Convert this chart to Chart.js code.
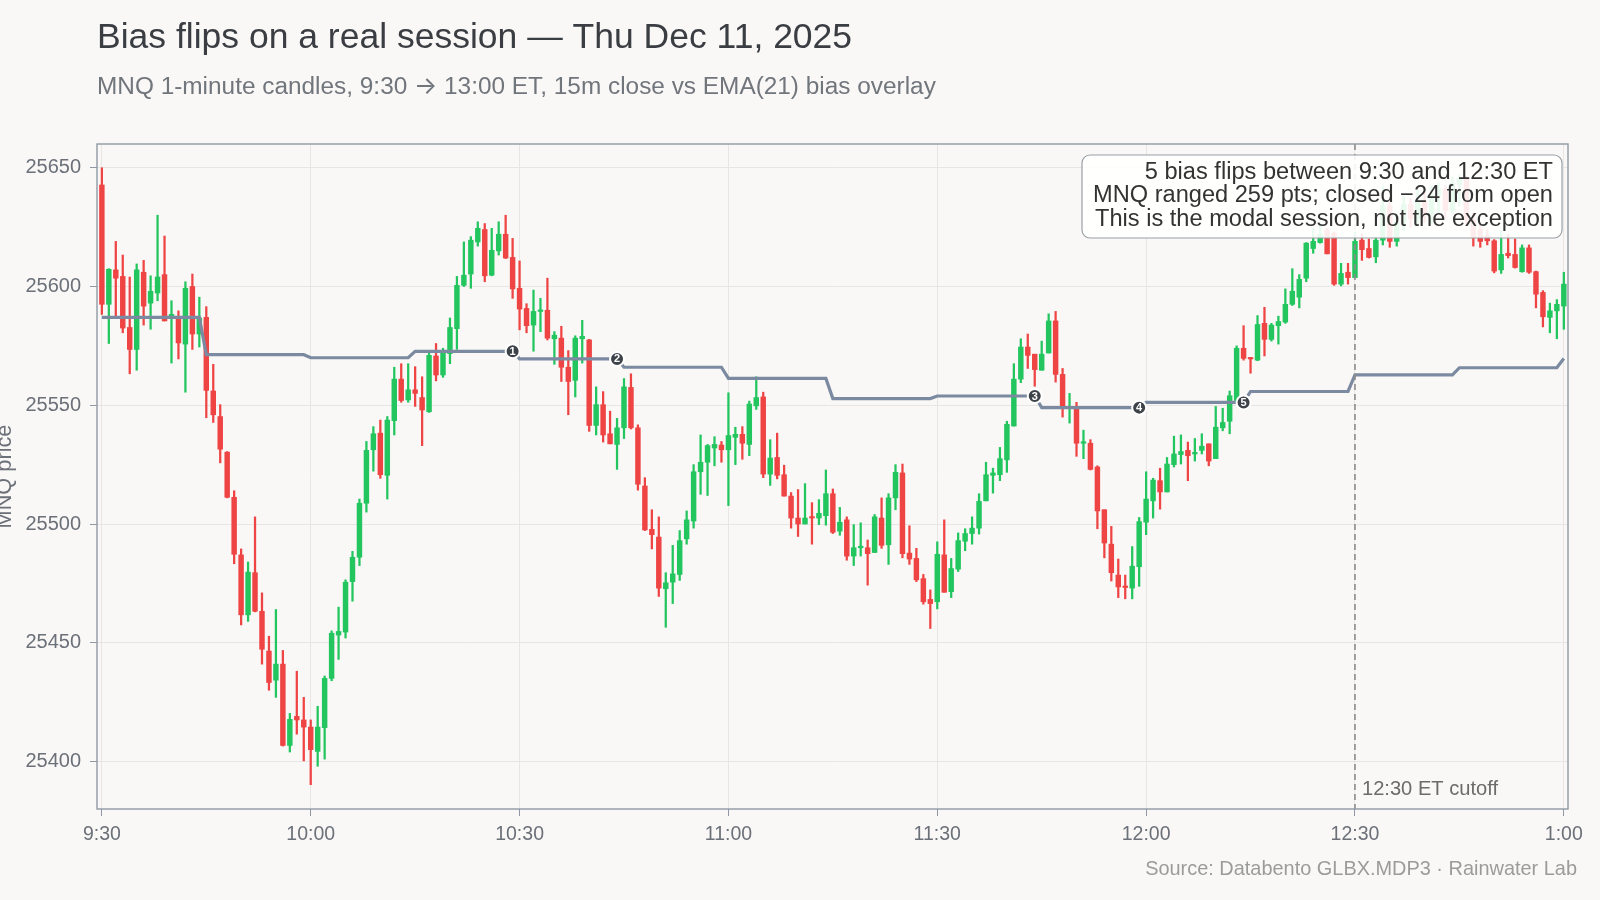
<!DOCTYPE html>
<html>
<head>
<meta charset="utf-8">
<script src="https://cdn.jsdelivr.net/npm/chart.js@4.4.1/dist/chart.umd.min.js"></script>
<style>
  html, body { margin: 0; padding: 0; background: #f9f8f6; }
  #wrap { width: 1600px; height: 900px; }
</style>
</head>
<body>
<div id="wrap"><canvas id="chart" width="1600" height="900"></canvas></div>
<script>
// MNQ 1-minute candles, 9:30 (index 0) -> 13:00 (index 210)
const opens = [
  25642.75, 25592.5, 25607, 25604.25, 25582.75, 25573.5, 25606, 25593, 25597.25, 25605,
  25587, 25586.75, 25575.75, 25600, 25580, 25587, 25556, 25545.25, 25530.25, 25511.25,
  25487, 25461.75, 25479.5, 25463.25, 25446.5, 25434.25, 25441, 25406.75, 25419, 25417.5,
  25414.5, 25404.25, 25414.25, 25435, 25453.25, 25454.5, 25475.75, 25486, 25508.75, 25531.25,
  25538.25, 25520.5, 25543.5, 25561, 25552.25, 25556.5, 25553.25, 25547.25, 25570.75, 25562.75,
  25571.75, 25582.25, 25600.5, 25605.25, 25618.75, 25624, 25604.75, 25615, 25622, 25612.25,
  25599.25, 25590.75, 25583.75, 25589.5, 25590, 25578, 25578.25, 25566, 25560.5, 25578,
  25577.5, 25541.5, 25550.25, 25538, 25533.5, 25540.5, 25557.5, 25540.5, 25516, 25497.75,
  25494.5, 25472.75, 25475.5, 25478.75, 25493.75, 25501.25, 25522, 25526, 25532, 25533.25,
  25531.25, 25536.5, 25537.75, 25533.5, 25549.75, 25553.5, 25521, 25528, 25520.75, 25511.75,
  25502.5, 25500, 25503, 25502.5, 25503.5, 25512.75, 25497, 25501.75, 25486.5, 25490,
  25490, 25488, 25502.5, 25491.25, 25511, 25521.5, 25487.75, 25485.5, 25477, 25468.25,
  25467.25, 25487, 25471.5, 25481, 25492.75, 25496, 25498.25, 25509.75, 25520.5, 25520.75,
  25527, 25541.25, 25561, 25574.5, 25571.5, 25564.75, 25572, 25585.5, 25563, 25548.75,
  25549, 25534, 25534, 25524, 25506, 25491.5, 25478.5, 25473.5, 25473, 25482,
  25500.75, 25509.75, 25518.25, 25513.5, 25525, 25529.25, 25531, 25529.5, 25531, 25533.75,
  25527.5, 25540.5, 25543.25, 25552, 25574, 25570, 25569, 25584.5, 25577.75, 25583.5,
  25585, 25592.5, 25595.5, 25603.5, 25616, 25618.5, 25623.75, 25622.5, 25601, 25606,
  25603.75, 25619.5, 25616, 25612.5, 25619.5, 25634, 25619, 25627, 25634.5, 25628.5,
  25636, 25630.5, 25638.5, 25641, 25632, 25643, 25645.5, 25628, 25624, 25621.5,
  25619.25, 25607, 25614, 25613.5, 25606.25, 25616.25, 25606.25, 25597.5, 25587, 25589.75,
  25591.75
];
const highs = [
  25650, 25607.5, 25619, 25613.25, 25604, 25609.5, 25611, 25604.5, 25630, 25621.25,
  25594, 25589.75, 25602, 25605.25, 25595.5, 25591.5, 25567.25, 25550.25, 25530.5, 25514,
  25489.5, 25484, 25503, 25471, 25452.75, 25464, 25446.75, 25420.25, 25438, 25427,
  25417.5, 25423.25, 25436, 25455, 25465, 25476.5, 25488.5, 25510.5, 25534.75, 25541,
  25543.75, 25545.25, 25566, 25567.5, 25567.5, 25566.25, 25562, 25573, 25576, 25574,
  25586.75, 25604.25, 25618.75, 25621, 25627.25, 25626.5, 25624.5, 25627.25, 25630, 25620.25,
  25610.75, 25592.75, 25598.5, 25595, 25603.5, 25581, 25583.25, 25573, 25579.25, 25585.75,
  25577.75, 25557.75, 25555.75, 25547.5, 25544.5, 25561.25, 25563.25, 25541.75, 25519.5, 25506,
  25503, 25479.5, 25491, 25497.25, 25505.5, 25525, 25537.5, 25533.5, 25536.75, 25534.75,
  25555.25, 25540.75, 25541, 25551.75, 25562, 25555.5, 25535.5, 25538.25, 25524.75, 25513.25,
  25514.5, 25517, 25509, 25510.25, 25522.75, 25514.75, 25507, 25503, 25499.75, 25500.5,
  25493.25, 25504, 25511, 25512.75, 25525, 25525.25, 25499.25, 25489.75, 25478.75, 25472.25,
  25492.5, 25501.75, 25485.5, 25496.25, 25498, 25503, 25512.75, 25526, 25523.5, 25532.25,
  25543.25, 25567.5, 25578, 25580, 25571.5, 25577, 25588.5, 25589.5, 25565.5, 25555,
  25551.25, 25539.5, 25535.5, 25524.5, 25506, 25499, 25485.25, 25478.5, 25490.5, 25502.75,
  25522, 25519.25, 25523.5, 25528, 25537, 25537.5, 25534.5, 25536, 25538, 25533.75,
  25549.5, 25548.75, 25556, 25575, 25583.5, 25570, 25587.75, 25591.25, 25584.5, 25587.5,
  25599, 25607.5, 25605, 25618.5, 25624.5, 25627, 25624.5, 25623, 25609.75, 25609.75,
  25623, 25622.25, 25620, 25621, 25642, 25636, 25630.5, 25638, 25637, 25640.5,
  25641, 25642.5, 25643.5, 25642.5, 25646, 25647, 25646.5, 25631, 25627, 25624,
  25619.75, 25623.5, 25622, 25620, 25617.5, 25617.5, 25606.5, 25598.25, 25593, 25594.5,
  25606
];
const lows = [
  25588.25, 25576, 25587.5, 25580.5, 25563.25, 25564.75, 25583.75, 25582, 25594, 25585.5,
  25567.75, 25569.5, 25555.5, 25573.5, 25574.5, 25544.75, 25542.75, 25525.75, 25511, 25483.25,
  25457.5, 25459, 25463, 25441, 25430, 25427, 25406.5, 25404, 25411.5, 25400.25,
  25390.25, 25398, 25401, 25434, 25443, 25452, 25467.5, 25482.5, 25505, 25522.25,
  25519.25, 25510.5, 25537.5, 25551.25, 25551.25, 25549.5, 25533, 25547, 25560.25, 25561.75,
  25567.5, 25573.5, 25600, 25599.25, 25617, 25602, 25604.5, 25613.25, 25611.75, 25595,
  25581.75, 25580.5, 25572.75, 25581, 25577.5, 25567.25, 25560, 25546, 25553.5, 25567.75,
  25539, 25537.5, 25534.5, 25533.75, 25523, 25536, 25540, 25514.25, 25497.25, 25489.5,
  25469.5, 25456.5, 25466.5, 25476.25, 25491.5, 25498.25, 25512.5, 25512, 25524.5, 25526,
  25507.75, 25525, 25527.25, 25528.75, 25548.25, 25519.5, 25516.25, 25519, 25511.75, 25498.25,
  25494.75, 25500, 25491.5, 25499.75, 25499.5, 25496, 25495.25, 25484.75, 25482.5, 25486.5,
  25474.25, 25488, 25489.75, 25483, 25506, 25485.75, 25483, 25475.75, 25466.25, 25456,
  25464.25, 25471.25, 25469, 25480, 25488.75, 25491.5, 25495.75, 25509.75, 25513, 25518.25,
  25521.75, 25541.25, 25559.5, 25565.5, 25558, 25564.75, 25572, 25559.75, 25545, 25542.5,
  25528.5, 25527.5, 25522.75, 25498, 25485.75, 25476, 25469, 25468.5, 25468.5, 25473.75,
  25495.5, 25502.5, 25506.25, 25513.5, 25524, 25525.25, 25518.25, 25526.5, 25529.5, 25524.5,
  25527.5, 25539.25, 25538, 25551.25, 25569, 25563.5, 25568.75, 25570.75, 25577, 25575.75,
  25584.5, 25592, 25591, 25602, 25614, 25618.25, 25613.75, 25600.5, 25600.25, 25601,
  25603.75, 25611, 25612, 25610, 25617.5, 25616.5, 25617, 25623.5, 25625, 25626.5,
  25627, 25626.5, 25630.5, 25629, 25631, 25634, 25626, 25617, 25616.5, 25617.5,
  25605.75, 25605.5, 25612, 25607.75, 25606, 25605.5, 25591, 25583, 25580.5, 25578,
  25582
];
const closes = [
  25592.5, 25607.25, 25603.5, 25582.5, 25573.5, 25607, 25591.75, 25598, 25604, 25585.5,
  25588.25, 25576.25, 25599.25, 25580, 25586.75, 25556.25, 25546, 25531.5, 25511.25, 25487.25,
  25461.75, 25479.75, 25463.25, 25447.25, 25433.25, 25441, 25406.75, 25417.75, 25417.5, 25414.5,
  25405, 25414.5, 25435, 25454, 25454.75, 25475.5, 25486, 25508.75, 25531, 25538,
  25520.75, 25543.75, 25561, 25552, 25556.5, 25555, 25548, 25571, 25562.75, 25572,
  25582.75, 25600.5, 25604.75, 25619.5, 25624.5, 25604.5, 25615.25, 25622, 25612, 25599,
  25590.5, 25583.5, 25589.5, 25590, 25578.25, 25579.5, 25566, 25560, 25578.25, 25579,
  25541.5, 25550.25, 25537.5, 25533.75, 25540.5, 25557.75, 25540.5, 25516.75, 25497.5, 25495.5,
  25473, 25475.25, 25479, 25493, 25501.75, 25522, 25526, 25533, 25533.5, 25531.25,
  25537.25, 25537.75, 25534, 25550.5, 25553.25, 25521, 25527.75, 25520.5, 25511.75, 25502.5,
  25500, 25502.5, 25502.5, 25504.5, 25512.75, 25496.5, 25500.75, 25486.5, 25490, 25490.5,
  25487.5, 25503, 25491, 25511, 25521.75, 25487.5, 25485.25, 25476.5, 25467.25, 25466.5,
  25487.25, 25471.25, 25481.25, 25493, 25496, 25498.25, 25509.5, 25520.75, 25521.5, 25527.5,
  25542, 25561, 25574.5, 25571, 25565, 25571.5, 25585.5, 25563, 25549, 25549.5,
  25534, 25534.5, 25523, 25505.5, 25492, 25479.5, 25473.5, 25473.25, 25482.25, 25501,
  25510.5, 25518.5, 25513.5, 25525.25, 25529.5, 25530.5, 25528.75, 25530, 25532.75, 25526.5,
  25540.75, 25542.75, 25554, 25574, 25569.75, 25569.5, 25584, 25577.75, 25583.75, 25585.25,
  25592.5, 25598, 25603, 25618.25, 25619, 25622, 25613.75, 25601, 25605.5, 25603.75,
  25619, 25615.5, 25612.25, 25619.5, 25634, 25619, 25627, 25634.5, 25628.5, 25636,
  25630.5, 25638.5, 25641, 25632, 25643.5, 25645.5, 25628, 25620.5, 25619, 25619.25,
  25606.5, 25613.5, 25613, 25608, 25616.25, 25606, 25596.75, 25587.25, 25589.75, 25592.5,
  25601
];

// EMA(21) bias level per 15-minute block (9:30, 9:45, ... 13:00)
const biasLevels = [
  25587, 25571.3, 25570, 25572.7, 25569.5, 25566, 25561.3, 25552.8,
  25553.9, 25549, 25551.2, 25555.8, 25562.8, 25565.8, 25569.7
];
const flipMinutes = [59, 74, 134, 149, 164];
const flipLabels = ["1", "2", "3", "4", "5"];
const cutoffMinute = 180;

const tickMinutes = [0, 30, 60, 90, 120, 150, 180, 210];
const tickLabels = ["9:30", "10:00", "10:30", "11:00", "11:30", "12:00", "12:30", "1:00"];
const priceTicks = [25400, 25450, 25500, 25550, 25600, 25650];

const noteLines = [
  "5 bias flips between 9:30 and 12:30 ET",
  "MNQ ranged 259 pts; closed \u221224 from open",
  "This is the modal session, not the exception"
];

const UP = "#22c55e";
const DOWN = "#ef4444";
const FONT = "'Liberation Sans', Arial, Helvetica, sans-serif";
const ARROW_FONT = "Inter, sans-serif";

const biasAt = (i) => biasLevels[Math.floor(i / 15)];
const candleColor = (i) => (closes[i] >= opens[i] ? UP : DOWN);

const wickData = opens.map((_, i) => ({ x: i, y: [lows[i], highs[i]] }));
const bodyData = opens.map((_, i) => ({ x: i, y: [opens[i], closes[i]] }));
const biasData = opens.map((_, i) => ({ x: i, y: biasAt(i) }));
const colors = opens.map((_, i) => candleColor(i));

// font size (px) at which the text spans the given width
function fitSize(ctx, text, width, family) {
  ctx.font = "100px " + (family || FONT);
  return (100 * width) / ctx.measureText(text).width;
}

// draw pieces of text in a row, each with its own family, all the same size
function drawRun(ctx, pieces, x, y, width) {
  let total = 0;
  pieces.forEach((p) => {
    ctx.font = "100px " + p.family;
    total += ctx.measureText(p.text).width;
  });
  const size = (100 * width) / total;
  let cx = x;
  pieces.forEach((p) => {
    ctx.font = size.toFixed(2) + "px " + p.family;
    ctx.fillText(p.text, cx, y);
    cx += ctx.measureText(p.text).width;
  });
}

// background, titles, frame, cutoff line, flip markers, note box
const overlayPlugin = {
  id: "overlay",
  beforeDraw(chart) {
    const { ctx, width, height } = chart;
    ctx.save();
    ctx.fillStyle = "#f9f8f6";
    ctx.fillRect(0, 0, width, height);
    ctx.restore();
  },
  afterDatasetsDraw(chart) {
    const { ctx, chartArea, scales } = chart;
    const x = scales.x, y = scales.y;
    ctx.save();

    // 12:30 cutoff
    const cx = x.getPixelForValue(cutoffMinute);
    ctx.strokeStyle = "#8c8c8c";
    ctx.lineWidth = 1.6;
    ctx.setLineDash([6, 4]);
    ctx.beginPath();
    ctx.moveTo(cx, chartArea.top);
    ctx.lineTo(cx, chartArea.bottom);
    ctx.stroke();
    ctx.setLineDash([]);
    ctx.fillStyle = "#6b6b6b";
    ctx.font = fitSize(ctx, "12:30 ET cutoff", 136).toFixed(2) + "px " + FONT;
    ctx.textAlign = "left";
    ctx.textBaseline = "middle";
    ctx.fillText("12:30 ET cutoff", cx + 7, chartArea.bottom - 20);

    // flip markers
    flipMinutes.forEach((m, k) => {
      const px = x.getPixelForValue(m);
      const py = y.getPixelForValue(biasAt(m));
      ctx.beginPath();
      ctx.arc(px, py, 7, 0, Math.PI * 2);
      ctx.fillStyle = "#3e4249";
      ctx.fill();
      ctx.lineWidth = 2;
      ctx.strokeStyle = "#ffffff";
      ctx.stroke();
      ctx.fillStyle = "#ffffff";
      ctx.font = "bold 11px " + FONT;
      ctx.textAlign = "center";
      ctx.fillText(flipLabels[k], px, py + 0.5);
    });

    // note box (top right)
    const bx = 1082, by = 155, bw = 480, bh = 83;
    ctx.beginPath();
    ctx.roundRect(bx, by, bw, bh, 8);
    ctx.fillStyle = "rgba(255, 255, 255, 0.9)";
    ctx.fill();
    ctx.lineWidth = 1.2;
    ctx.strokeStyle = "#9aa0a6";
    ctx.stroke();
    ctx.fillStyle = "#333333";
    ctx.textAlign = "right";
    ctx.font = fitSize(ctx, noteLines[1], 460).toFixed(2) + "px " + FONT;
    noteLines.forEach((t, k) => ctx.fillText(t, bx + bw - 9, by + 17 + k * 23.5));

    // frame
    ctx.lineWidth = 1.4;
    ctx.strokeStyle = "#8f99a5";
    ctx.strokeRect(chartArea.left, chartArea.top, chartArea.right - chartArea.left, chartArea.bottom - chartArea.top);
    ctx.restore();
  },
  afterDraw(chart) {
    const { ctx, chartArea } = chart;
    const title = "Bias flips on a real session \u2014 Thu Dec 11, 2025";
    const source = "Source: Databento GLBX.MDP3 \u00b7 Rainwater Lab";
    ctx.save();
    ctx.textBaseline = "middle";
    ctx.textAlign = "left";
    ctx.fillStyle = "#3a3d42";
    ctx.font = fitSize(ctx, title, 755).toFixed(2) + "px " + FONT;
    ctx.fillText(title, 97, 38);

    ctx.fillStyle = "#71757c";
    drawRun(ctx, [
      { text: "MNQ 1-minute candles, 9:30 ", family: FONT },
      { text: "\u2192", family: ARROW_FONT },
      { text: " 13:00 ET, 15m close vs EMA(21) bias overlay", family: FONT }
    ], 97, 87, 839);

    ctx.fillStyle = "#9b9b9b";
    ctx.font = fitSize(ctx, source, 432).toFixed(2) + "px " + FONT;
    ctx.textAlign = "right";
    ctx.fillText(source, 1577, 870);

    // y axis title
    ctx.translate(5, (chartArea.top + chartArea.bottom) / 2);
    ctx.rotate(-Math.PI / 2);
    ctx.textAlign = "center";
    ctx.fillStyle = "#6b7079";
    ctx.font = fitSize(ctx, "MNQ price", 104).toFixed(2) + "px " + FONT;
    ctx.fillText("MNQ price", 0, 0);
    ctx.restore();
  }
};

Chart.defaults.font.family = FONT;

new Chart(document.getElementById("chart"), {
  type: "bar",
  data: {
    datasets: [
      {
        type: "line",
        data: biasData,
        borderColor: "#7b8aa0",
        borderWidth: 3.2,
        pointRadius: 0,
        tension: 0,
        order: 0
      },
      {
        data: bodyData,
        backgroundColor: colors,
        barThickness: 4.8,
        minBarLength: 1.5,
        grouped: false,
        order: 1
      },
      {
        data: wickData,
        backgroundColor: colors,
        barThickness: 1.6,
        grouped: false,
        order: 2
      }
    ]
  },
  options: {
    responsive: false,
    animation: false,
    layout: { padding: { top: 144, right: 32, bottom: 0, left: 0 } },
    plugins: { legend: { display: false }, tooltip: { enabled: false } },
    scales: {
      x: {
        type: "linear",
        min: -0.7,
        max: 210.6,
        offset: false,
        grid: { color: "#e7e6e4", lineWidth: 1, tickLength: 7, tickColor: "#8f99a5", offset: false },
        border: { display: false },
        afterBuildTicks: (scale) => { scale.ticks = tickMinutes.map((v) => ({ value: v })); },
        afterFit: (scale) => { scale.height = 91; },
        ticks: {
          autoSkip: false,
          maxRotation: 0,
          padding: 7,
          color: "#6b7079",
          font: { size: 19.5 },
          callback: (v) => tickLabels[tickMinutes.indexOf(v)]
        }
      },
      y: {
        min: 25380,
        max: 25660,
        grid: { color: "#e7e6e4", lineWidth: 1, tickLength: 7, tickColor: "#8f99a5" },
        border: { display: false },
        afterBuildTicks: (scale) => { scale.ticks = priceTicks.map((v) => ({ value: v })); },
        afterFit: (scale) => { scale.width = 97; },
        ticks: {
          padding: 9,
          color: "#6b7079",
          font: { size: 20 },
          callback: (v) => String(v)
        }
      }
    }
  },
  plugins: [overlayPlugin]
});
</script>
</body>
</html>
